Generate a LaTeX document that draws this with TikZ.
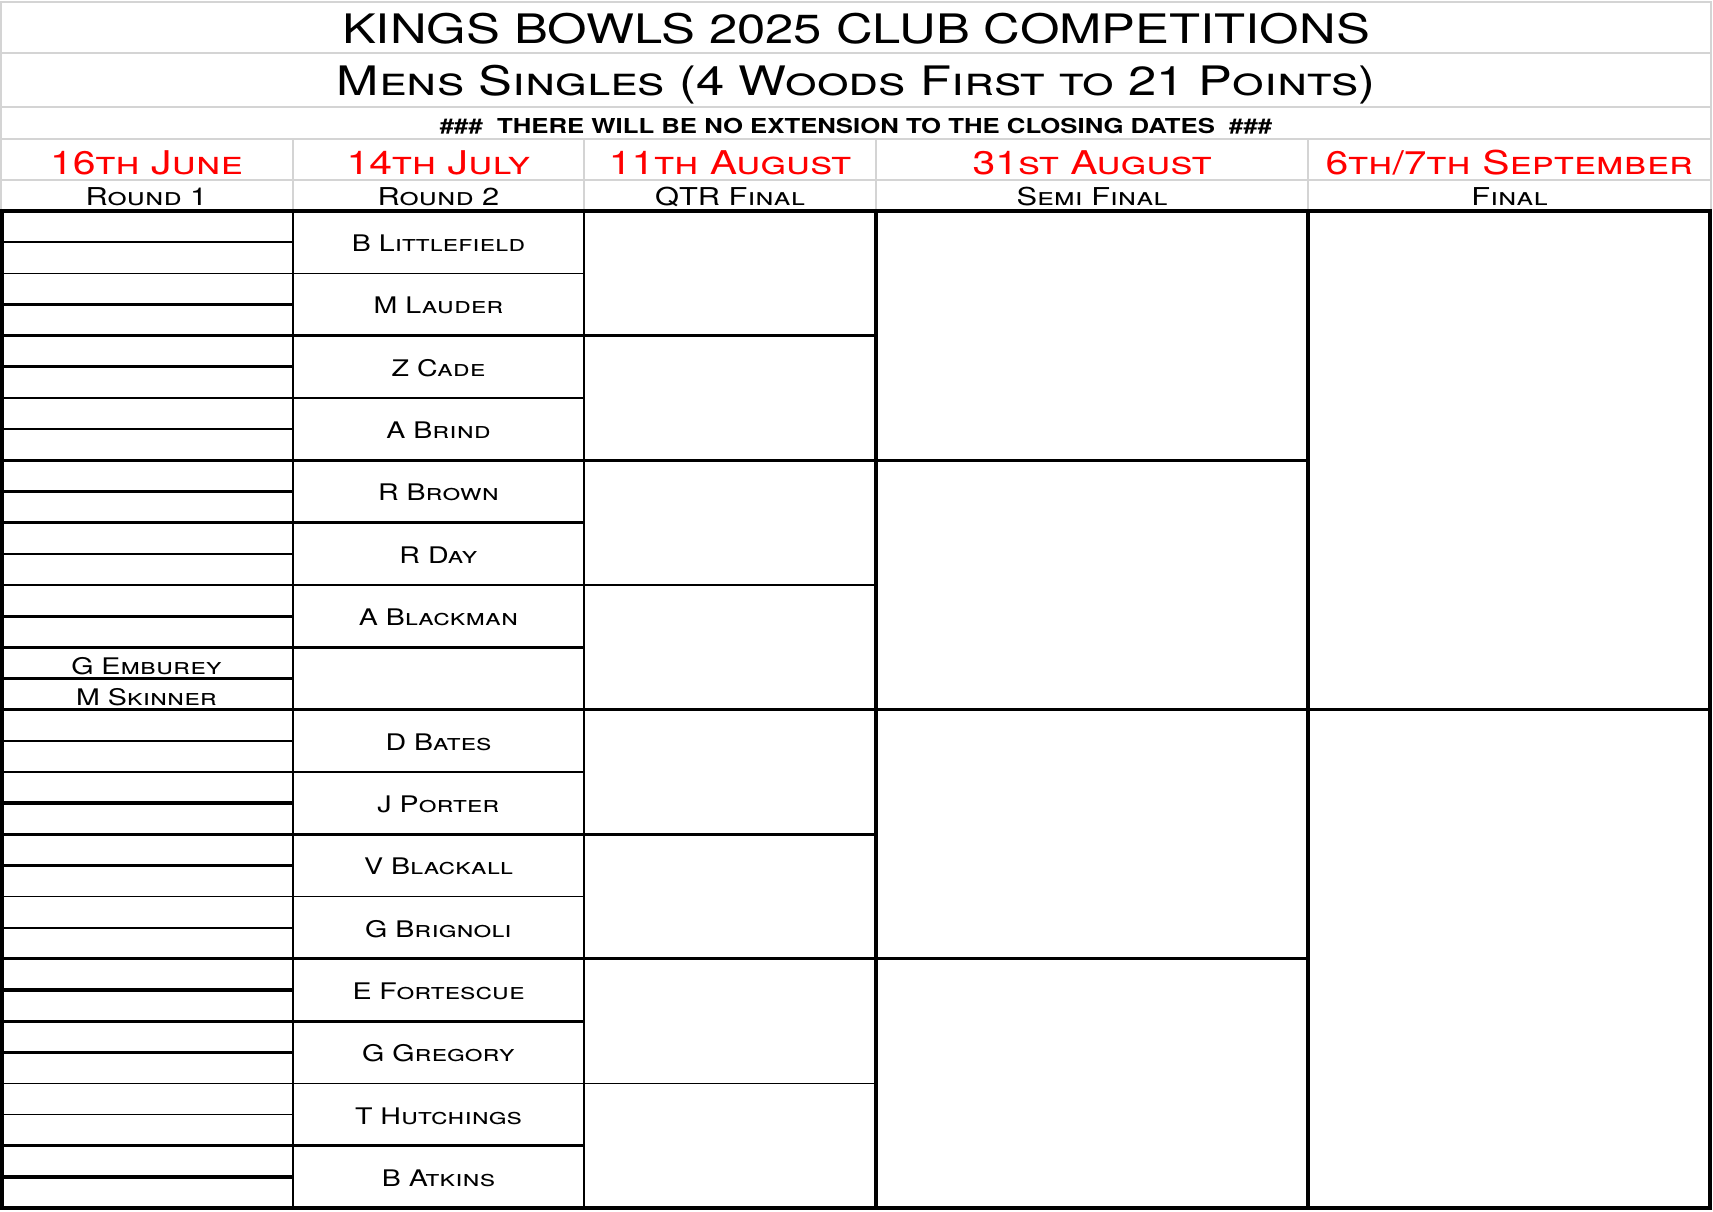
\documentclass[tikz,border=0pt]{standalone}
\usepackage{fontspec}
\setmainfont{TeX Gyre Heros}[FakeStretch=1.25]
\usetikzlibrary{positioning}
\definecolor{gridgray}{RGB}{212,212,212}
\definecolor{datered}{RGB}{255,0,0}
\tikzstyle{hdrline}=[draw=gridgray,line width=0.6pt]
\tikzstyle{thickrule}=[draw=black,line width=0.9pt]
\tikzstyle{thinrule}=[draw=black,line width=0.45pt]
\tikzstyle{titletxt}=[anchor=base,inner sep=0pt,font=\fontsize{11.55}{13}\selectfont]
\tikzstyle{subtxt}=[anchor=base,inner sep=0pt,font=\fontsize{11.55}{13}\selectfont\scshape]
\tikzstyle{notetxt}=[anchor=base,inner sep=0pt,font=\fontsize{5.85}{7}\selectfont\bfseries]
\tikzstyle{datetxt}=[anchor=base,inner sep=0pt,text=datered,font=\fontsize{9.3}{11}\selectfont\scshape]
\tikzstyle{roundtxt}=[anchor=base,inner sep=0pt,font=\fontsize{7}{8}\selectfont\scshape]
\tikzstyle{player}=[anchor=base,inner sep=0pt,font=\fontsize{6.5}{8}\selectfont\scshape]

\begin{document}
\begin{tikzpicture}[x=0.01cm,y=-0.01cm]
\useasboundingbox (0,0) rectangle (1713,1211);

% header grid
\draw[hdrline] (1,2) rectangle (1711,211);
\draw[hdrline] (1,53) -- (1711,53);
\draw[hdrline] (1,107) -- (1711,107);
\draw[hdrline] (1,139) -- (1711,139);
\draw[hdrline] (1,180) -- (1711,180);
\foreach \cx in {293,584,876,1308} \draw[hdrline] (\cx,139) -- (\cx,211);

\node (title) [titletxt] at (856,43) {KINGS BOWLS 2025 CLUB COMPETITIONS};
\node (subtitle) [subtxt] at (856,95) {Mens Singles (4 Woods First to 21 Points)};
\node (note) [notetxt] at (856,133) {\#\#\#~ THERE WILL BE NO EXTENSION TO THE CLOSING DATES ~\#\#\#};

\node (d1) [datetxt] at (146.5,174) {16th June};
\node (d2) [datetxt] at (438.5,174) {14th July};
\node (d3) [datetxt] at (730,174) {11th August};
\node (d4) [datetxt] at (1092,174) {31st August};
\node (d5) [datetxt] at (1509.5,174) {6th/7th September};
\node (rd1) [roundtxt] at (146.5,205) {Round 1};
\node (rd2) [roundtxt] at (438.5,205) {Round 2};
\node (rd3) [roundtxt] at (730,205) {QTR Final};
\node (rd4) [roundtxt] at (1092,205) {Semi Final};
\node (rd5) [roundtxt] at (1509.5,205) {Final};

% round 1 rows
\foreach \k in {1,2,6,7,11,12,17,18,22,23,28,29}
  \draw[thinrule] (2,{211+\k*31.16}) -- (294,{211+\k*31.16});
\foreach \k in {3,4,5,8,9,10,13,14,15,16,19,20,21,24,25,26,27,30,31}
  \draw[thickrule] (2,{211+\k*31.16}) -- (294,{211+\k*31.16});
% round 2 rows
\foreach \k in {2,6,12,18,22,28}
  \draw[thinrule] (293,{211+\k*31.16}) -- (585,{211+\k*31.16});
\foreach \k in {4,8,10,14,16,20,24,26,30}
  \draw[thickrule] (293,{211+\k*31.16}) -- (585,{211+\k*31.16});
% quarter finals
\foreach \k in {12,28}
  \draw[thinrule] (584,{211+\k*31.16}) -- (876,{211+\k*31.16});
\foreach \k in {4,8,16,20,24}
  \draw[thickrule] (584,{211+\k*31.16}) -- (876,{211+\k*31.16});
% semi finals and final
\foreach \k in {8,16,24}
  \draw[thickrule] (876,{211+\k*31.16}) -- (1308,{211+\k*31.16});
\draw[thickrule] (1308,{211+16*31.16}) -- (1710,{211+16*31.16});

% columns
\draw[thinrule] (293,211) -- (293,1208);
\draw[thinrule] (584,211) -- (584,1208);
\draw[thickrule] (876,211) -- (876,1208);
\draw[thickrule] (1308,211) -- (1308,1208);
\draw[thickrule] (2,211) rectangle (1710,1208);

% players
\node (r1p15) [player] at (146.5,674) {G Emburey};
\node (r1p16) [player] at (146.5,705) {M Skinner};
\foreach \i/\nm in {1/B Littlefield,2/M Lauder,3/Z Cade,4/A Brind,5/R Brown,6/R Day,7/A Blackman,
  9/D Bates,10/J Porter,11/V Blackall,12/G Brignoli,13/E Fortescue,14/G Gregory,15/T Hutchings,16/B Atkins}
  \node (r2p\i) [player] at (438.5,{211+(2*\i-1)*31.16+9.5}) {\nm};
\end{tikzpicture}
\end{document}
